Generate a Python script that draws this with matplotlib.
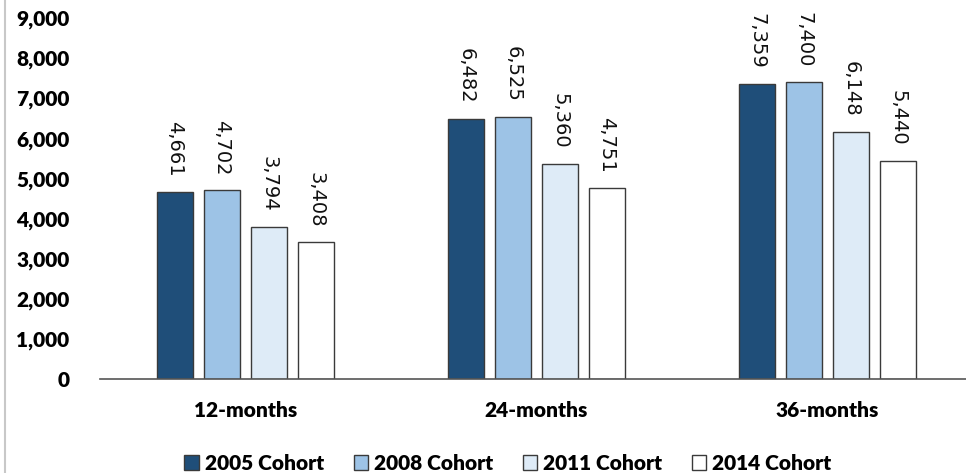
import numpy as np
import matplotlib.pyplot as plt
from matplotlib.lines import Line2D

# Valores
periodos = ["12-months", "24-months", "36-months"]
cohortes = ["2005 Cohort", "2008 Cohort", "2011 Cohort", "2014 Cohort"]
valores = [
    [4661, 6482, 7359],  # 2005
    [4702, 6525, 7400],  # 2008
    [3794, 5360, 6148],  # 2011
    [3408, 4751, 5440],  # 2014
]
colores = ["#1f4e79", "#9dc3e6", "#deebf7", "#ffffff"]
yticks = np.arange(0, 10000, 1000)

fig = plt.figure(figsize=(9.66, 4.73), dpi=100)
ax = fig.add_axes([100 / 966, 94 / 473, 866 / 966, 361 / 473])

x = np.arange(len(periodos))
paso = 0.1615
ancho = 0.127
for i, (coh, vals, col) in enumerate(zip(cohortes, valores, colores)):
    pos = x + (i - 1.5) * paso
    barras = ax.bar(pos, vals, width=ancho, color=col, edgecolor="#3a3a3a",
                    linewidth=1.0, label=coh, zorder=2)
    for b, v in zip(barras, vals):
        ax.annotate(f"{v:,}", (b.get_x() + b.get_width() / 2, v),
                    xytext=(0, 11), textcoords="offset points",
                    rotation=270, ha="center", va="bottom",
                    fontsize=14, family="DejaVu Sans", color="#111111")

ax.set_xlim(-0.5, 2.5 - 7 / 291)
ax.set_ylim(0, 9000)
ax.set_yticks(yticks)
ax.set_yticklabels([f"{t:,}" for t in yticks], family="Lato",
                   fontweight="heavy", fontsize=15)
ax.set_xticks(x)
ax.set_xticklabels(periodos, family="Lato", fontweight="heavy", fontsize=15)
ax.tick_params(axis="y", length=0, pad=22)
ax.tick_params(axis="x", length=0, pad=16)
for s in ["top", "right", "left"]:
    ax.spines[s].set_visible(False)
ax.spines["bottom"].set_color("#555555")
ax.spines["bottom"].set_linewidth(1.2)

fig.legend(loc="center", bbox_to_anchor=(508 / 966, 1 - 463 / 473), ncol=4,
           frameon=False, prop={"family": "Lato", "weight": "heavy", "size": 15},
           handlelength=0.7, handleheight=0.7, handletextpad=0.3, columnspacing=1.4)

# borde gris a la izquierda
fig.add_artist(Line2D([4.5 / 966, 4.5 / 966], [0, 1], color="#c8c8c8",
                      linewidth=1.5, transform=fig.transFigure))

fig.savefig("out.png", dpi=100)
